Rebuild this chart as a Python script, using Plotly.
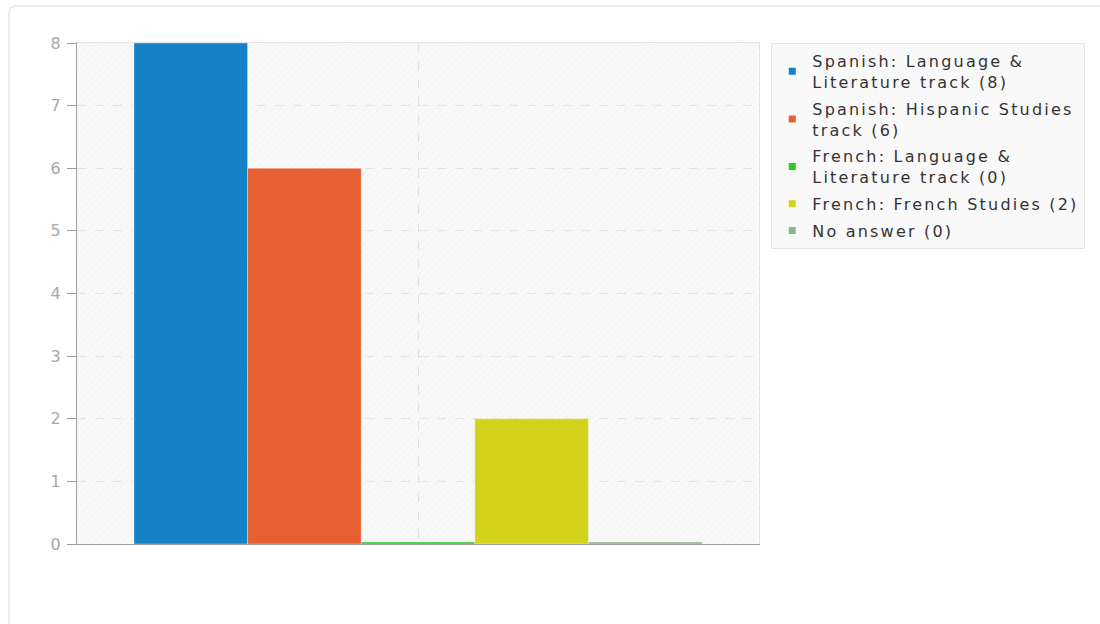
import plotly.graph_objects as go

# ---- data ----
series_names = [
    "Spanish: Language & Literature track",
    "Spanish: Hispanic Studies track",
    "French: Language & Literature track",
    "French: French Studies",
    "No answer",
]
legend_lines = [
    ["Spanish: Language &", "Literature track"],
    ["Spanish: Hispanic Studies", "track"],
    ["French: Language &", "Literature track"],
    ["French: French Studies"],
    ["No answer"],
]
values = [8, 6, 0, 2, 0]
colors = ["#1582c8", "#e85f33", "#27cc27", "#d3d31c", "#88b888"]
y_ticks = [0, 1, 2, 3, 4, 5, 6, 7, 8]
category = [0]

MIN_VISIBLE = 0.03  # zero-valued bars are shown as a thin line, like the original

FONT = "DejaVu Sans"
LS = "letter-spacing:2.2px"

fig = go.Figure()

# hatched plot background (pattern only, sits on the main subplot)
fig.add_trace(go.Bar(
    x=category, y=[max(y_ticks)], width=[1], xaxis="x", yaxis="y",
    marker=dict(color="rgba(0,0,0,0)", line=dict(width=0),
                pattern=dict(shape="/", fgcolor="rgba(0,0,0,0.05)",
                             bgcolor="rgba(0,0,0,0)", size=5, solidity=0.2)),
    showlegend=False, hoverinfo="skip",
))

for i, (name, v, c) in enumerate(zip(series_names, values, colors)):
    fig.add_trace(go.Bar(
        x=category, y=[max(v, MIN_VISIBLE)], xaxis="x2", yaxis="y2",
        name=name, customdata=[v],
        hovertemplate=name + ": %{customdata}<extra></extra>",
        marker=dict(color=c, line=dict(width=1, color="rgba(255,255,255,0.35)")),
        showlegend=False, offsetgroup=str(i),
    ))
    label = "<br>".join(
        f'<span style="{LS}">{ln}{" (" + str(v) + ")" if j == len(legend_lines[i]) - 1 else ""}</span>'
        for j, ln in enumerate(legend_lines[i])
    )
    fig.add_trace(go.Scatter(
        x=[None], y=[None], mode="markers", name=label, xaxis="x2", yaxis="y2",
        marker=dict(symbol="square", size=7, color=c),
        legendgroup=f"g{i}", hoverinfo="skip",
    ))

fig.update_layout(
    width=1100, height=624,
    margin=dict(l=77, r=341, t=43, b=80),
    paper_bgcolor="white", plot_bgcolor="#f9f9f9",
    barmode="group", bargap=0.167, bargroupgap=0,
    font=dict(family=FONT, size=16, color="#333333"),
    showlegend=True,
    legend=dict(
        x=1.018, y=1.0, xanchor="left", yanchor="top",
        bgcolor="#f9f9f9", bordercolor="#e4e4e4", borderwidth=1,
        font=dict(family=FONT, size=16, color="#333333"),
        traceorder="grouped", tracegroupgap=3, itemclick=False,
    ),
    xaxis=dict(
        range=[-0.5, 0.5], tickvals=category, showticklabels=False, ticks="",
        showgrid=True, griddash="dash", gridcolor="#e2e2e2", gridwidth=1,
        showline=True, linecolor="#9e9e9e", linewidth=1, zeroline=False,
        fixedrange=True,
    ),
    yaxis=dict(
        range=[0, 8], tickvals=y_ticks, ticks="outside", ticklen=9,
        tickcolor="#9e9e9e", tickwidth=1,
        tickfont=dict(family=FONT, size=16, color="#a8a8a8"),
        ticklabelstandoff=3,
        showgrid=True, griddash="dash", gridcolor="#e6e6e6", gridwidth=1,
        showline=True, linecolor="#9e9e9e", linewidth=1, zeroline=False,
        fixedrange=True,
    ),
    xaxis2=dict(
        overlaying="x", side="top", range=[-0.5, 0.5], showticklabels=False,
        ticks="", showgrid=False, zeroline=False, showline=True,
        linecolor="#e2e2e2", linewidth=1, fixedrange=True,
    ),
    yaxis2=dict(
        overlaying="y", side="right", range=[0, 8], showticklabels=False,
        ticks="", showgrid=False, zeroline=False, showline=True,
        linecolor="#e2e2e2", linewidth=1, fixedrange=True,
    ),
    shapes=[dict(
        type="path", xref="paper", yref="paper", xsizemode="pixel", ysizemode="pixel",
        xanchor=0, yanchor=1,
        path="M -68,-600 L -68,29 Q -68,37 -60,37 L 1040,37",
        line=dict(color="#e6e6e6", width=1.5), layer="below",
    )],
)

fig.write_html("out.html", config={"displayModeBar": False},
               post_script="document.body.style.margin='0';")
